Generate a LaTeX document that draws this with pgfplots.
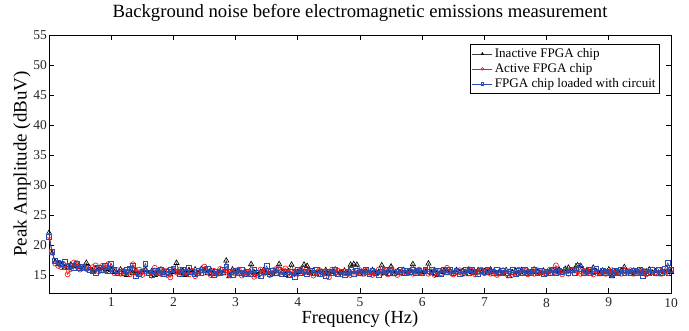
\documentclass[border=0pt]{standalone}
\usepackage{pgfplots}
\pgfplotsset{compat=1.18}
\usepackage{pgfplotstable}
\usepackage{fontspec}
\setmainfont{Liberation Serif}
\definecolor{mblue}{RGB}{45,75,175}
\definecolor{mred}{RGB}{250,20,20}
\pgfplotstableread{
x a b c
0.00 22.0 21.5 21.3
0.05 18.6 18.9 18.8
0.10 17.2 16.9 17.4
0.15 16.8 16.5 17.1
0.20 16.6 16.3 16.9
0.25 16.2 16.6 17.2
0.30 16.4 15.1 16.3
0.35 16.7 16.0 16.5
0.40 16.5 17.1 16.2
0.45 16.9 16.4 16.8
0.50 16.3 15.9 16.1
0.55 16.1 16.2 16.4
0.60 17.0 16.0 16.2
0.65 16.2 15.8 15.9
0.70 15.7 16.3 15.6
0.75 16.0 16.6 15.4
0.80 15.9 15.6 16.2
0.85 16.1 16.5 15.8
0.90 15.6 16.3 16.6
0.95 16.0 16.8 15.7
1.00 15.8 16.1 16.9
1.05 15.5 15.3 15.9
1.10 15.2 15.8 15.4
1.15 15.9 15.2 15.6
1.20 15.4 15.7 15.3
1.25 15.0 15.5 15.8
1.30 15.6 15.1 16.1
1.35 15.3 16.8 16.6
1.40 15.7 15.4 14.9
1.45 15.1 15.9 15.2
1.50 15.5 15.0 15.6
1.55 15.8 15.6 16.9
1.60 15.2 15.3 15.4
1.65 15.6 14.9 15.0
1.70 15.0 16.2 15.7
1.75 15.4 15.5 15.3
1.80 15.9 15.2 15.8
1.85 15.3 15.7 15.1
1.90 15.6 15.0 15.5
1.95 15.1 14.6 15.9
2.00 15.5 15.8 16.0
2.05 17.0 15.4 15.6
2.10 15.3 15.9 15.2
2.15 15.7 15.2 15.9
2.20 15.0 15.6 15.4
2.25 15.8 15.1 16.2
2.30 15.4 15.7 15.5
2.35 15.9 14.8 15.1
2.40 15.2 15.3 15.7
2.45 16.0 15.9 15.3
2.50 15.6 16.4 15.8
2.55 15.3 15.5 16.1
2.60 15.8 15.0 15.4
2.65 15.5 15.7 15.0
2.70 15.1 15.2 15.6
2.75 15.6 16.0 15.3
2.80 15.3 15.4 15.9
2.85 17.4 15.8 16.4
2.90 14.8 15.1 15.5
2.95 15.9 15.6 15.0
3.00 15.4 15.2 15.7
3.05 15.7 15.9 15.3
3.10 15.2 14.9 15.8
3.15 15.6 15.5 15.1
3.20 15.0 15.3 15.6
3.25 16.8 15.8 15.2
3.30 15.3 14.7 15.9
3.35 14.9 15.4 15.4
3.40 15.5 15.9 14.8
3.45 15.8 15.2 15.5
3.50 15.3 15.6 16.5
3.55 15.6 15.0 15.2
3.60 15.1 15.8 15.7
3.65 15.7 16.0 15.3
3.70 16.8 15.3 15.9
3.75 15.4 15.7 15.1
3.80 15.0 16.1 15.6
3.85 15.6 15.4 15.0
3.90 16.7 15.1 15.5
3.95 15.2 15.6 14.7
4.00 15.5 15.2 15.8
4.05 15.9 15.9 15.3
4.10 16.7 15.4 15.6
4.15 16.5 16.0 15.1
4.20 15.3 15.5 15.7
4.25 15.7 14.9 15.4
4.30 15.1 15.3 15.9
4.35 15.6 15.8 15.2
4.40 15.3 15.1 15.5
4.45 15.8 15.6 14.9
4.50 15.2 14.6 15.6
4.55 15.5 15.9 15.3
4.60 15.9 15.4 15.8
4.65 15.0 15.7 15.2
4.70 15.4 15.1 15.6
4.75 15.7 15.6 15.0
4.80 15.2 15.3 15.5
4.85 16.7 15.0 15.8
4.90 16.8 15.6 15.2
4.95 16.7 15.3 15.7
5.00 15.4 15.8 15.3
5.05 15.1 15.2 15.6
5.10 15.6 15.7 15.9
5.15 15.3 15.4 15.2
5.20 15.8 15.0 15.7
5.25 15.2 15.5 15.4
5.30 15.5 15.9 15.0
5.35 16.6 15.3 15.6
5.40 15.3 15.7 15.9
5.45 15.7 15.1 15.3
5.50 16.4 16.2 15.8
5.55 15.1 15.6 15.4
5.60 15.6 15.0 15.6
5.65 15.3 15.4 15.9
5.70 15.8 15.8 15.3
5.75 15.2 15.3 15.7
5.80 15.6 15.7 15.5
5.85 16.8 15.2 15.9
5.90 15.4 15.6 15.4
5.95 15.7 15.9 15.7
6.00 15.2 15.4 15.3
6.05 15.5 15.7 15.8
6.10 16.9 15.2 15.6
6.15 15.3 15.6 15.9
6.20 15.8 15.0 15.4
6.25 15.0 15.5 15.7
6.30 15.5 15.3 15.2
6.35 15.7 15.9 15.8
6.40 15.3 16.2 15.5
6.45 15.6 15.6 15.9
6.50 15.2 15.1 15.3
6.55 15.8 15.5 15.7
6.60 15.4 15.8 15.1
6.65 15.6 15.2 15.6
6.70 15.1 15.6 15.8
6.75 15.9 15.3 15.4
6.80 15.5 15.7 15.9
6.85 15.3 15.1 15.6
6.90 15.8 15.6 15.2
6.95 15.4 15.9 15.7
7.00 15.6 15.3 15.5
7.05 15.3 15.7 15.9
7.10 15.9 15.2 15.6
7.15 15.5 15.6 15.3
7.20 15.1 15.0 15.8
7.25 15.7 15.5 15.4
7.30 15.3 15.8 15.7
7.35 15.8 15.2 15.3
7.40 14.8 15.6 15.6
7.45 15.4 15.0 15.9
7.50 15.7 15.5 15.2
7.55 15.2 15.9 15.7
7.60 15.8 15.3 15.4
7.65 15.4 15.7 15.8
7.70 15.6 15.1 15.3
7.75 15.2 15.5 15.6
7.80 15.9 15.2 15.9
7.85 15.5 15.8 15.4
7.90 15.3 15.4 15.7
7.95 15.7 15.6 15.2
8.00 15.2 15.2 15.6
8.05 15.6 15.9 15.4
8.10 15.8 15.3 15.8
8.15 15.4 16.6 15.3
8.20 15.9 15.5 15.7
8.25 15.3 15.1 15.5
8.30 16.0 15.6 15.9
8.35 16.2 15.2 15.4
8.40 15.7 15.7 15.8
8.45 16.0 15.3 15.4
8.50 16.6 15.6 16.6
8.55 16.5 15.2 16.0
8.60 15.4 15.7 15.3
8.65 15.8 15.4 15.6
8.70 15.2 15.8 15.9
8.75 16.2 15.1 15.5
8.80 15.5 15.6 16.1
8.85 15.1 15.4 15.4
8.90 15.7 15.7 15.7
8.95 15.4 15.2 15.3
9.00 15.9 15.5 15.6
9.05 14.8 15.8 15.2
9.10 15.6 15.3 15.7
9.15 15.3 15.6 15.4
9.20 15.7 15.2 15.8
9.25 16.3 15.7 15.4
9.30 15.5 15.4 15.6
9.35 15.2 15.8 15.3
9.40 15.7 15.2 15.7
9.45 15.4 15.6 15.4
9.50 15.8 15.3 15.9
9.55 15.2 15.7 14.9
9.60 15.6 15.1 15.6
9.65 15.9 15.5 15.3
9.70 15.3 15.9 15.8
9.75 15.6 15.4 15.4
9.80 15.1 15.8 15.9
9.85 15.7 15.2 15.3
9.90 15.4 15.6 16.0
9.95 15.8 15.3 17.0
10.00 15.5 15.9 15.8
}\noise
\begin{document}
\begin{tikzpicture}
\useasboundingbox (-49pt,-38pt) rectangle (640pt,293pt);
\begin{axis}[
  scale only axis,
  width=622pt, height=258pt,
  xmin=0, xmax=10, ymin=12, ymax=55,
  xtick={1,2,...,10},
  ytick={15,20,...,55},
  tick align=inside,
  major tick length=5pt,
  axis line style={line width=0.9pt},
  every tick/.style={black, line width=0.7pt},
  /pgf/number format/assume math mode=true,
  tick label style={font=\fontsize{13.5}{15}\selectfont, text=black!85},
  xticklabel style={yshift=-1.5pt},
  yticklabel style={xshift=1.5pt},
  title={Background noise before electromagnetic emissions measurement},
  title style={font=\fontsize{18.7}{21}\selectfont, at={(0.5,1)}, anchor=south, yshift=3.5pt},
  xlabel={Frequency (Hz)},
  xlabel style={font=\fontsize{18.5}{20}\selectfont, yshift=3pt},
  ylabel={Peak Amplitude (dBuV)},
  ylabel style={font=\fontsize{19}{20}\selectfont, yshift=-4pt},
  legend style={at={(1,1)}, anchor=north east, xshift=-11pt, yshift=-9pt,
    font=\fontsize{13.1}{15}\selectfont, draw=black, line width=0.8pt,
    row sep=0pt, inner sep=2pt, nodes={inner ysep=2.2pt}},
  legend cell align=left,
  legend image code/.code={\draw[mark repeat=2, mark phase=2, #1, mark size=1.3pt] plot coordinates {(0pt,0pt) (10pt,0pt) (20pt,0pt)};},
]
\addplot[black!75, line width=0.6pt, mark=triangle, mark size=3pt, mark options={solid, line width=0.65pt, draw=black}] table[x=x, y=a] {\noise};
\addlegendentry{Inactive FPGA chip}
\addplot[mred, line width=0.6pt, mark=o, mark size=2.5pt, mark options={solid, line width=0.65pt}] table[x=x, y=b] {\noise};
\addlegendentry{Active FPGA chip}
\addplot[mblue, line width=0.7pt, mark=square, mark size=2.4pt, mark options={solid, line width=0.7pt}] table[x=x, y=c] {\noise};
\addlegendentry{FPGA chip loaded with circuit}
\node[anchor=north east, font=\fontsize{11.5}{12}\selectfont, inner sep=0pt] at (rel axis cs:1.0,-0.09) {x 10$^{\mathrm{8}}$};
\end{axis}
\end{tikzpicture}
\end{document}
